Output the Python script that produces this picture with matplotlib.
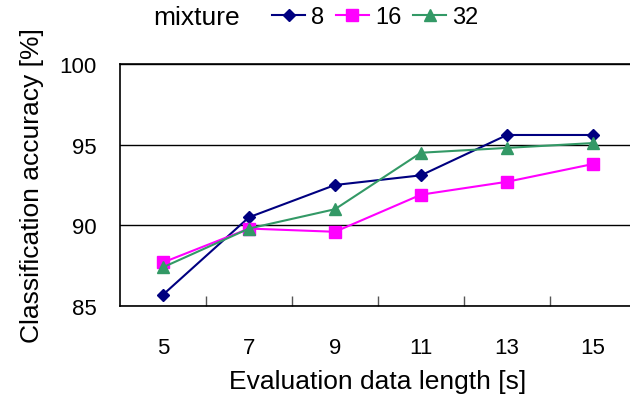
#!/usr/bin/env python3
"""Classification accuracy vs. evaluation data length for several mixture counts."""

import matplotlib

matplotlib.use("Agg")

import matplotlib.pyplot as plt
from matplotlib.ticker import FixedLocator

plt.rcParams["font.family"] = ["Liberation Sans", "DejaVu Sans"]

# Evaluation data length [s] (category axis)
lengths = ["5", "7", "9", "11", "13", "15"]

# Accuracy [%] per number of mixtures
acc_8 = [85.7, 90.5, 92.5, 93.1, 95.6, 95.6]
acc_16 = [87.7, 89.8, 89.6, 91.9, 92.7, 93.8]
acc_32 = [87.4, 89.8, 91.0, 94.5, 94.8, 95.1]

series_labels = ["8", "16", "32"]

fig = plt.figure(figsize=(6.3, 4.06), dpi=100)
# Plot area runs off the right edge, as in the original export.
ax = fig.add_axes([120 / 630, 1 - 307 / 406, 516 / 630, 242 / 406])

x = list(range(len(lengths)))
ax.plot(x, acc_8, color="#000080", marker="D", markersize=6.5, linewidth=1.5,
        label=series_labels[0])
ax.plot(x, acc_16, color="#ff00ff", marker="s", markersize=8.5, linewidth=1.5,
        label=series_labels[1])
ax.plot(x, acc_32, color="#339966", marker="^", markersize=9, linewidth=1.5,
        label=series_labels[2])

ax.set_xlim(-0.5, len(lengths) - 0.5)
ax.set_ylim(85, 100)
ax.set_yticks([85, 90, 95, 100])
ax.set_xticks(x)
ax.set_xticklabels(lengths)

# Excel-style category axis: tick marks sit between categories, pointing inward.
ax.xaxis.set_minor_locator(FixedLocator([i + 0.5 for i in range(len(lengths) - 1)]))
ax.tick_params(axis="x", which="minor", direction="in", length=7, width=1, color="#555555")
ax.tick_params(axis="x", which="major", length=0, pad=22, labelsize=16)
ax.tick_params(axis="y", which="major", length=0, pad=17, labelsize=16)

ax.grid(axis="y", color="black", linewidth=1)
for spine in ax.spines.values():
    spine.set_linewidth(1.2)
    spine.set_color("black")

ax.set_xlabel("Evaluation data length [s]", fontsize=19, labelpad=8)
ax.set_ylabel("Classification accuracy [%]", fontsize=19, labelpad=11)

fig.text(153 / 630, 1 - 18 / 406, "mixture", fontsize=19, va="center", ha="left")
fig.legend(loc="center left", bbox_to_anchor=(272 / 630, 1 - 18 / 406), ncol=3,
           frameon=False, fontsize=17, handlelength=1.4, handletextpad=0.25,
           columnspacing=0.5, borderpad=0, borderaxespad=0)

fig.savefig("out.png", dpi=100)
plt.close(fig)
